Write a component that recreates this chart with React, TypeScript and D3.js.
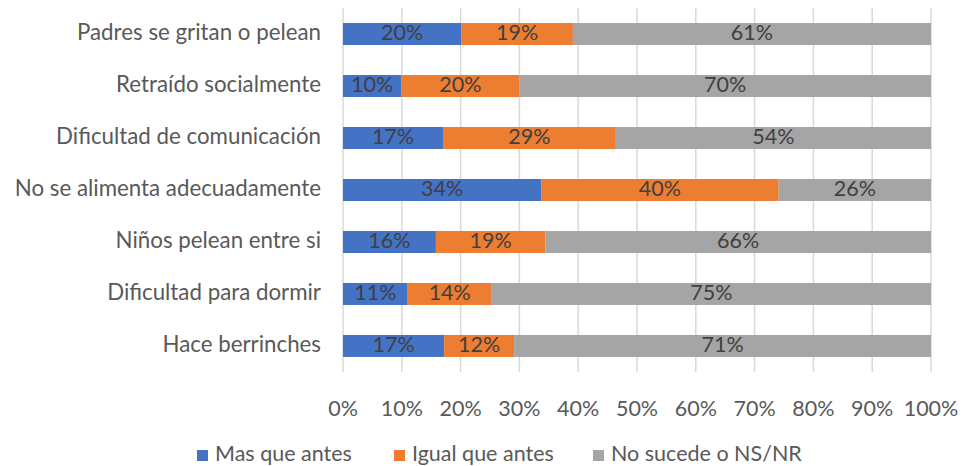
import * as d3 from "d3";

const categories = [
  "Padres se gritan o pelean",
  "Retraído socialmente",
  "Dificultad de comunicación",
  "No se alimenta adecuadamente",
  "Niños pelean entre si",
  "Dificultad para dormir",
  "Hace berrinches",
];
const seriesNames = ["Mas que antes", "Igual que antes", "No sucede o NS/NR"];
const masQueAntes = [20.1, 9.9, 17.0, 33.7, 15.8, 11.0, 17.2];
const igualQueAntes = [19.0, 20.1, 29.4, 40.4, 18.6, 14.3, 11.9];
const noSucede = [60.9, 70.0, 53.6, 25.9, 65.6, 74.7, 70.9];
const ticks = [0, 10, 20, 30, 40, 50, 60, 70, 80, 90, 100];
const colors = ["#4472c4", "#ed7d31", "#a5a5a5"];

const width = 962;
const height = 466;
const margin = { top: 8, right: 31, bottom: 94, left: 343 };
const font = "Lato, 'Open Sans', sans-serif";
const fs = 21.5;

export default function App() {
  const x = d3.scaleLinear().domain([0, 100]).range([margin.left, width - margin.right]);
  const y = d3
    .scaleBand<string>()
    .domain(categories)
    .range([margin.top, height - margin.bottom])
    .paddingInner(0.577)
    .paddingOuter(0.289);

  const rows = categories.map((c, i) => ({
    cat: c,
    v: [masQueAntes[i], igualQueAntes[i], noSucede[i]],
  }));
  const stack = d3
    .stack<{ cat: string; v: number[] }, number>()
    .keys([0, 1, 2])
    .value((d, k) => d.v[k]);
  const layers = stack(rows);
  const legendX = [197, 394, 593];

  return (
    <svg
      width={width}
      height={height}
      style={{ position: "absolute", left: 0, top: 0, background: "#fff" }}
    >
      {ticks.map((t) => (
        <g key={t}>
          <line
            x1={x(t)}
            x2={x(t)}
            y1={margin.top}
            y2={height - margin.bottom}
            stroke="#d9d9d9"
            strokeWidth={1.5}
          />
          <text
            x={x(t)}
            y={411}
            textAnchor="middle"
            dominantBaseline="middle"
            fontFamily={font}
            fontSize={fs}
            fill="#595959"
          >
            {t}%
          </text>
        </g>
      ))}
      {categories.map((c) => (
        <text
          key={c}
          x={321}
          y={y(c)! + y.bandwidth() / 2}
          textAnchor="end"
          dominantBaseline="middle"
          fontFamily={font}
          fontSize={22.3}
          fill="#595959"
        >
          {c}
        </text>
      ))}
      {layers.map((layer, li) => (
        <g key={li}>
          {layer.map((d) => (
            <g key={d.data.cat}>
              <rect
                x={x(d[0])}
                y={y(d.data.cat)}
                width={x(d[1]) - x(d[0])}
                height={y.bandwidth()}
                fill={colors[li]}
              />
              <text
                x={(x(d[0]) + x(d[1])) / 2}
                y={y(d.data.cat)! + y.bandwidth() / 2 + 1}
                textAnchor="middle"
                dominantBaseline="middle"
                fontFamily={font}
                fontSize={fs}
                fill="#404040"
              >
                {Math.round(d[1] - d[0])}%
              </text>
            </g>
          ))}
        </g>
      ))}
      {seriesNames.map((s, i) => (
        <g key={s}>
          <rect x={legendX[i]} y={450} width={11} height={11} fill={colors[i]} />
          <text
            x={legendX[i] + 18}
            y={456}
            dominantBaseline="middle"
            fontFamily={font}
            fontSize={fs}
            fill="#595959"
          >
            {s}
          </text>
        </g>
      ))}
    </svg>
  );
}
